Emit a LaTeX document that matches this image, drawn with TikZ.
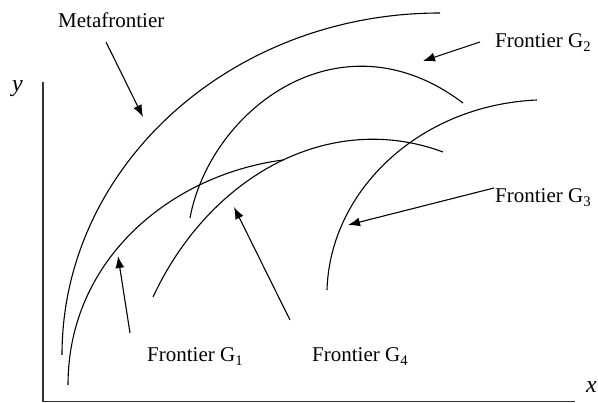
\documentclass[tikz,border=0pt]{standalone}
\usepackage{fontspec}
\setmainfont{Liberation Serif}
\usetikzlibrary{arrows.meta}
\begin{document}
\begin{tikzpicture}[x=1pt,y=-1pt,
  frontier/.style={line width=1.1pt},
  axisline/.style={line width=1.4pt, draw=black!80},
  pointer/.style={line width=1.1pt, -{Latex[length=12pt,width=9pt]}},
  lbl/.style={anchor=base west, inner sep=0pt, font=\fontsize{21}{24}\selectfont},
  axlbl/.style={anchor=base west, inner sep=0pt, font=\fontsize{24}{26}\selectfont\itshape}]
\useasboundingbox (0,0) rectangle (598,403);
% axes
\coordinate (O) at (43,401.5);
\coordinate (ytop) at (43,82);
\coordinate (xend) at (575,401.5);
\draw[axisline] (ytop) -- (O) -- (xend);
\node[axlbl] (ylab) at (12,92) {y};
\node[axlbl] (xlab) at (586,393) {x};
% frontiers
\draw[frontier] (62,355) .. controls (62,166) and (231,13) .. (440,13);
\draw[frontier] (68,385) .. controls (68,260) and (170,175) .. (283,160);
\draw[frontier] (190,218) .. controls (210,110) and (340,10) .. (463,103);
\draw[frontier] (153,297) .. controls (210,175) and (330,110) .. (443,152);
\draw[frontier] (327,290) .. controls (330,190) and (420,105) .. (537,100);
% labels
\node[lbl] (meta) at (58,28) {Metafrontier};
\node[lbl] (g2) at (495,48) {Frontier G\textsubscript{2}};
\node[lbl] (g3) at (495,203) {Frontier G\textsubscript{3}};
\node[lbl] (g1) at (147,362) {Frontier G\textsubscript{1}};
\node[lbl] (g4) at (312,362) {Frontier G\textsubscript{4}};
% pointer ends
\coordinate (metaS) at (106,42);  \coordinate (metaT) at (143,117);
\coordinate (g2S) at (480,42);    \coordinate (g2T) at (423,61);
\coordinate (g3S) at (494,188);   \coordinate (g3T) at (348,225);
\coordinate (g1S) at (130,333);   \coordinate (g1T) at (118,256);
\coordinate (g4S) at (290,320);   \coordinate (g4T) at (234,207);
\draw[pointer] (metaS) -- (metaT);
\draw[pointer] (g2S) -- (g2T);
\draw[pointer] (g3S) -- (g3T);
\draw[pointer] (g1S) -- (g1T);
\draw[pointer] (g4S) -- (g4T);
\end{tikzpicture}
\end{document}
